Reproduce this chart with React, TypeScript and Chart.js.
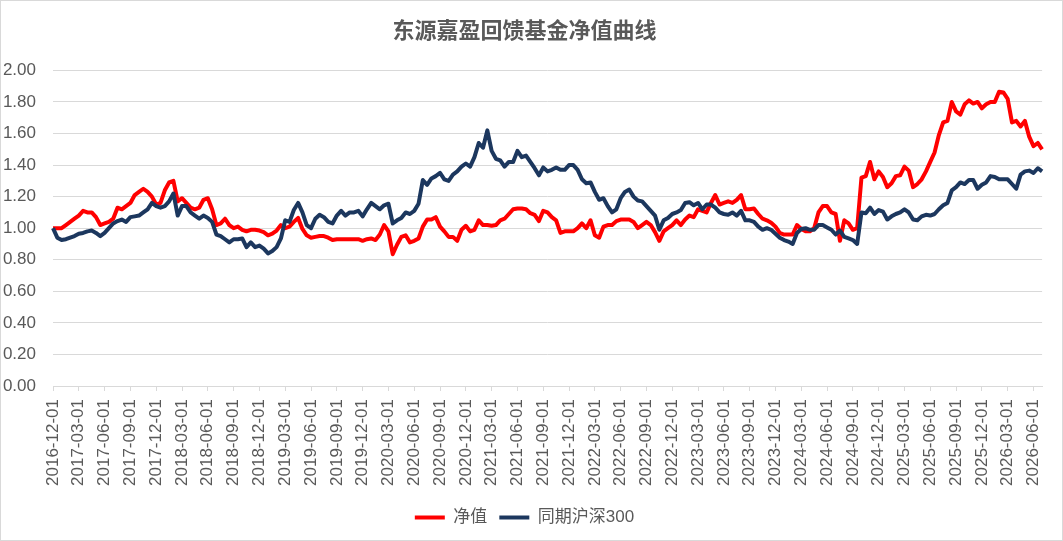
import React, { useEffect, useRef } from 'react';
import Chart from 'chart.js/auto';

// semi-monthly sample dates, 2016-12-01 .. 2026-07-01
const dates: string[] = [];
for (let m = 0; m < 115; m++) {
  const y = 2016 + Math.floor((11 + m) / 12);
  const mo = String(((11 + m) % 12) + 1).padStart(2, '0');
  dates.push(`${y}-${mo}-01`, `${y}-${mo}-16`);
}
dates.push('2026-07-01');

const quarterMonths = ['03', '06', '09', '12'];

// 净值
const navValues = [
  1.00, 1.00, 1.00, 1.02, 1.04, 1.06, 1.08, 1.11, 1.10, 1.10,
  1.07, 1.02, 1.03, 1.04, 1.06, 1.13, 1.12, 1.14, 1.16, 1.21,
  1.23, 1.25, 1.23, 1.20, 1.15, 1.16, 1.24, 1.29, 1.30, 1.17,
  1.19, 1.16, 1.13, 1.12, 1.13, 1.18, 1.19, 1.12, 1.02, 1.03,
  1.06, 1.02, 1.00, 1.01, 0.99, 0.98, 0.99, 0.99, 0.985, 0.975,
  0.955, 0.965, 0.985, 1.02, 1.00, 1.01, 1.04, 1.065, 0.995, 0.955,
  0.94, 0.945, 0.95, 0.95, 0.94, 0.925, 0.93, 0.93, 0.93, 0.93,
  0.93, 0.93, 0.92, 0.93, 0.935, 0.925, 0.96, 1.02, 0.98, 0.835,
  0.895, 0.945, 0.955, 0.91, 0.92, 0.935, 1.01, 1.055, 1.055, 1.07,
  1.01, 0.98, 0.945, 0.945, 0.92, 0.99, 1.015, 0.98, 0.99, 1.05,
  1.02, 1.02, 1.015, 1.02, 1.05, 1.06, 1.09, 1.12, 1.125, 1.125,
  1.12, 1.095, 1.085, 1.045, 1.11, 1.10, 1.07, 1.05, 0.97, 0.98,
  0.98, 0.98, 1.00, 1.03, 1.00, 1.05, 0.955, 0.94, 1.01, 1.02,
  1.02, 1.045, 1.055, 1.055, 1.055, 1.04, 1.00, 1.02, 1.04, 1.02,
  0.975, 0.92, 0.98, 1.00, 1.02, 1.05, 1.02, 1.055, 1.08, 1.07,
  1.12, 1.11, 1.10, 1.16, 1.21, 1.15, 1.16, 1.17, 1.16, 1.18,
  1.21, 1.12, 1.12, 1.125, 1.09, 1.06, 1.05, 1.035, 1.01, 0.97,
  0.96, 0.96, 0.96, 1.02, 0.995, 0.98, 0.98, 1.00, 1.10, 1.14,
  1.14, 1.10, 1.09, 0.92, 1.05, 1.03, 0.99, 1.00, 1.32, 1.33,
  1.42, 1.31, 1.36, 1.325, 1.26, 1.285, 1.33, 1.335, 1.39, 1.365,
  1.26, 1.28, 1.31, 1.36, 1.42, 1.48, 1.59, 1.67, 1.68, 1.80,
  1.74, 1.72, 1.785, 1.81, 1.79, 1.80, 1.76, 1.785, 1.80, 1.80,
  1.865, 1.86, 1.82, 1.67, 1.68, 1.645, 1.68, 1.58, 1.52, 1.54,
  1.50,
];

// 同期沪深300
const csi300Values = [
  1.00, 0.94, 0.925, 0.93, 0.94, 0.95, 0.965, 0.97, 0.98, 0.985,
  0.97, 0.95, 0.97, 1.00, 1.03, 1.045, 1.055, 1.04, 1.07, 1.075,
  1.08, 1.10, 1.12, 1.16, 1.14, 1.13, 1.14, 1.17, 1.22, 1.08,
  1.14, 1.14, 1.10, 1.08, 1.06, 1.08, 1.065, 1.04, 0.96, 0.95,
  0.93, 0.91, 0.93, 0.93, 0.935, 0.88, 0.91, 0.88, 0.89, 0.87,
  0.84, 0.855, 0.88, 0.935, 1.05, 1.04, 1.115, 1.16, 1.10, 1.02,
  1.00, 1.06, 1.085, 1.07, 1.04, 1.03, 1.08, 1.11, 1.08, 1.10,
  1.10, 1.11, 1.075, 1.12, 1.16, 1.14, 1.12, 1.145, 1.155, 1.03,
  1.05, 1.065, 1.10, 1.09, 1.11, 1.155, 1.305, 1.275, 1.315, 1.33,
  1.35, 1.31, 1.30, 1.34, 1.36, 1.39, 1.41, 1.39, 1.45, 1.54,
  1.51, 1.62, 1.49, 1.44, 1.43, 1.39, 1.42, 1.42, 1.49, 1.45,
  1.46, 1.42, 1.38, 1.335, 1.385, 1.36, 1.37, 1.385, 1.37, 1.37,
  1.40, 1.40, 1.37, 1.31, 1.285, 1.29, 1.23, 1.18, 1.19, 1.14,
  1.10, 1.12, 1.19, 1.23, 1.245, 1.20, 1.175, 1.17, 1.14, 1.11,
  1.08, 0.99, 1.05, 1.065, 1.09, 1.10, 1.115, 1.16, 1.165, 1.145,
  1.16, 1.12, 1.15, 1.15, 1.13, 1.10, 1.09, 1.085, 1.10, 1.08,
  1.11, 1.05, 1.05, 1.04, 1.01, 0.99, 1.00, 0.99, 0.965, 0.94,
  0.925, 0.915, 0.90, 0.97, 0.995, 1.00, 0.99, 0.99, 1.02, 1.02,
  1.005, 0.99, 0.96, 0.985, 0.945, 0.935, 0.925, 0.90, 1.10, 1.095,
  1.13, 1.09, 1.115, 1.105, 1.055, 1.075, 1.09, 1.10, 1.12, 1.10,
  1.055, 1.05, 1.075, 1.085, 1.08, 1.09, 1.12, 1.145, 1.16, 1.24,
  1.26, 1.29, 1.28, 1.305, 1.305, 1.25, 1.275, 1.29, 1.33, 1.325,
  1.31, 1.31, 1.31, 1.28, 1.25, 1.34, 1.36, 1.365, 1.35, 1.38,
  1.36,
];

const FONT = "'Liberation Sans', 'Noto Sans CJK SC', sans-serif";
const TEXT = '#595959';
const GRID = '#d9d9d9';

const App: React.FC = () => {
  const chartRef = useRef<HTMLCanvasElement | null>(null);

  useEffect(() => {
    document.body.style.margin = '0';
    if (!chartRef.current) return;
    const ctx = chartRef.current.getContext('2d');

    const chart = new Chart(ctx!, {
      type: 'line',
      data: {
        labels: dates,
        datasets: [
          {
            label: '净值',
            data: navValues,
            borderColor: '#ff0000',
            backgroundColor: '#ff0000',
            borderWidth: 4,
            pointRadius: 0,
            borderJoinStyle: 'round',
            order: 1,
          },
          {
            label: '同期沪深300',
            data: csi300Values,
            borderColor: '#1c375e',
            backgroundColor: '#1c375e',
            borderWidth: 4,
            pointRadius: 0,
            borderJoinStyle: 'round',
            order: 0, // drawn on top, like Excel
          },
        ],
      },
      options: {
        responsive: false,
        animation: false,
        devicePixelRatio: 1,
        layout: { padding: { left: 0, right: 14, top: 0, bottom: 4 } },
        font: { family: FONT },
        plugins: {
          title: {
            display: true,
            text: '东源嘉盈回馈基金净值曲线',
            color: TEXT,
            font: { family: FONT, size: 22, weight: 'bold' },
            padding: { top: 18, bottom: 25 },
          },
          legend: {
            position: 'bottom',
            labels: {
              color: TEXT,
              font: { family: FONT, size: 17 },
              usePointStyle: true,
              pointStyle: 'line',
              pointStyleWidth: 30,
              padding: 12,
              sort: (a, b) => (a.datasetIndex ?? 0) - (b.datasetIndex ?? 0),
            },
          },
          tooltip: { enabled: false },
        },
        scales: {
          x: {
            grid: { drawOnChartArea: false, drawTicks: true, tickLength: 5, color: GRID },
            border: { display: true, color: GRID },
            afterBuildTicks: (scale: any) => {
              // keep only quarter starts
              scale.ticks = scale.ticks.filter((t: any) => {
                const d = dates[t.value];
                return d.endsWith('-01') && quarterMonths.includes(d.slice(5, 7));
              });
            },
            afterFit: (scale: any) => {
              scale.height = 111;
            },
            ticks: {
              autoSkip: false,
              maxRotation: 90,
              minRotation: 90,
              padding: 8,
              color: TEXT,
              font: { family: FONT, size: 17 },
            },
          },
          y: {
            min: 0,
            max: 2,
            grid: { color: GRID, drawTicks: false },
            border: { display: false },
            afterFit: (scale: any) => {
              scale.width = 52;
            },
            ticks: {
              stepSize: 0.2,
              padding: 17,
              color: TEXT,
              font: { family: FONT, size: 17 },
              callback: (v) => Number(v).toFixed(2),
            },
          },
        },
      },
    });

    return () => {
      chart.destroy();
    };
  }, []);

  return (
    <div
      style={{
        width: 1063,
        height: 541,
        boxSizing: 'border-box',
        border: '1px solid #d9d9d9',
        background: '#fff',
      }}
    >
      <canvas ref={chartRef} width={1061} height={539} style={{ display: 'block', width: 1061, height: 539 }} />
    </div>
  );
};

export default App;
